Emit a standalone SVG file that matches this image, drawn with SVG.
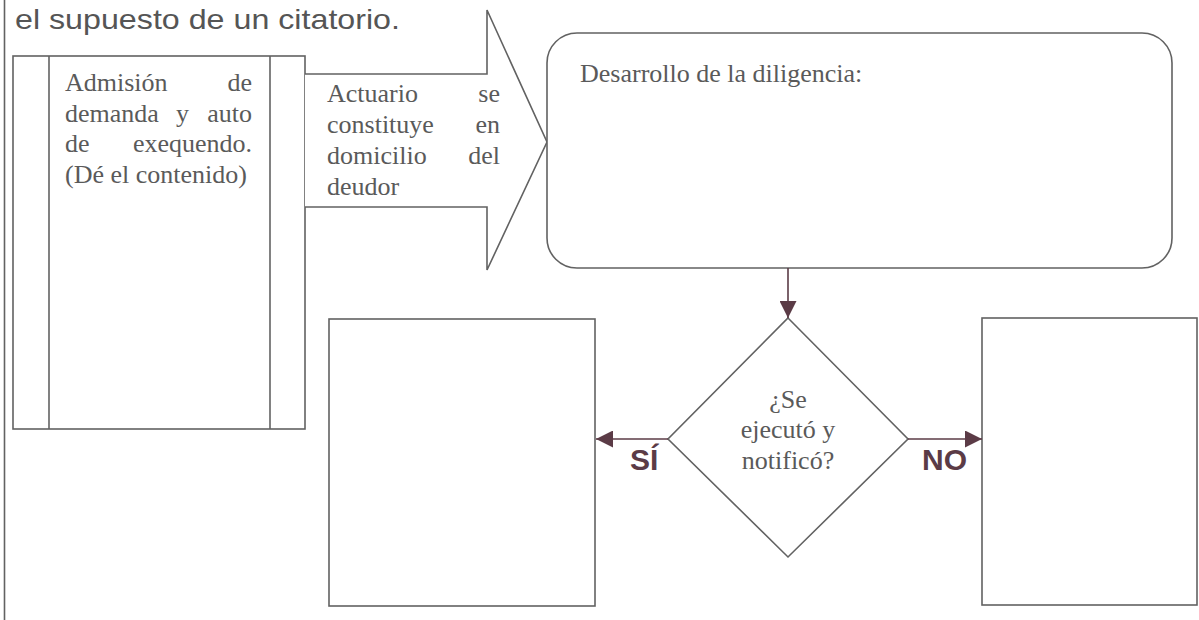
<svg xmlns="http://www.w3.org/2000/svg" width="1199" height="620" viewBox="0 0 1199 620">
  <style>
    .ln { fill: none; stroke: #626262; stroke-width: 1.6; }
    .bx { fill: #ffffff; stroke: #626262; stroke-width: 1.6; }
    .tx { font-family: "Liberation Serif", "Times New Roman", serif; font-size: 26px; fill: #5a5a5a; }
    .title { font-family: "Liberation Sans", Arial, sans-serif; font-size: 28px; fill: #555555; }
    .lbl { font-family: "Liberation Sans", Arial, sans-serif; font-size: 30px; font-weight: bold; fill: #5b3b46; }
    .con { fill: none; stroke: #5b3b46; stroke-width: 1.6; }
  </style>
  <defs>
    <marker id="ah" viewBox="0 0 10 10" refX="10" refY="5" markerWidth="20" markerHeight="17" markerUnits="userSpaceOnUse" orient="auto">
      <path d="M0,0 L10,5 L0,10 Z" fill="#5b3b46"/>
    </marker>
  </defs>
  <rect x="0" y="0" width="1199" height="620" fill="#ffffff"/>
  <line x1="4.5" y1="0" x2="4.5" y2="620" class="ln"/>
  <text class="title" x="15" y="29" textLength="385" lengthAdjust="spacingAndGlyphs">el supuesto de un citatorio.</text>

  <g id="admision">
    <rect class="bx" x="13" y="56" width="292" height="373"/>
    <line class="ln" x1="49" y1="56" x2="49" y2="429"/>
    <line class="ln" x1="270" y1="56" x2="270" y2="429"/>
    <text class="tx" x="65" y="91">Admisión</text>
    <text class="tx" x="252" y="91" text-anchor="end">de</text>
    <text class="tx" x="65" y="122">demanda</text>
    <text class="tx" x="176" y="122">y</text>
    <text class="tx" x="252" y="122" text-anchor="end">auto</text>
    <text class="tx" x="65" y="152">de</text>
    <text class="tx" x="252" y="152" text-anchor="end">exequendo.</text>
    <text class="tx" x="65" y="183">(Dé el contenido)</text>
  </g>

  <g id="actuario">
    <polygon points="305,74 487,74 487,10 547,142 487,270 487,207 305,207" fill="#ffffff" stroke="none"/>
    <polyline class="ln" points="305,74 487,74 487,10 547,142 487,270 487,207 305,207"/>
    <text class="tx" x="327" y="102">Actuario</text>
    <text class="tx" x="500" y="102" text-anchor="end">se</text>
    <text class="tx" x="327" y="133">constituye</text>
    <text class="tx" x="500" y="133" text-anchor="end">en</text>
    <text class="tx" x="327" y="164">domicilio</text>
    <text class="tx" x="500" y="164" text-anchor="end">del</text>
    <text class="tx" x="327" y="195">deudor</text>
  </g>

  <g id="desarrollo">
    <rect class="bx" x="547" y="33" width="625" height="235" rx="30" ry="30"/>
    <text class="tx" x="580" y="82">Desarrollo de la diligencia:</text>
  </g>

  <g id="decision">
    <polygon class="bx" points="788,318 908,439 788,557 668,439"/>
    <text class="tx" x="788" y="408" text-anchor="middle">¿Se</text>
    <text class="tx" x="788" y="438" text-anchor="middle">ejecutó y</text>
    <text class="tx" x="788" y="469" text-anchor="middle">notificó?</text>
  </g>

  <g id="si-box">
    <rect class="bx" x="329" y="319" width="266" height="287"/>
  </g>

  <g id="no-box">
    <rect class="bx" x="982" y="318" width="215" height="287"/>
  </g>

  <g id="connectors">
    <line class="con" x1="788" y1="268" x2="788" y2="318" marker-end="url(#ah)"/>
    <line class="con" x1="668" y1="439" x2="596" y2="439" marker-end="url(#ah)"/>
    <line class="con" x1="908" y1="439" x2="982" y2="439" marker-end="url(#ah)"/>
    <text class="lbl" x="630" y="470">SÍ</text>
    <text class="lbl" x="922" y="470">NO</text>
  </g>
</svg>
